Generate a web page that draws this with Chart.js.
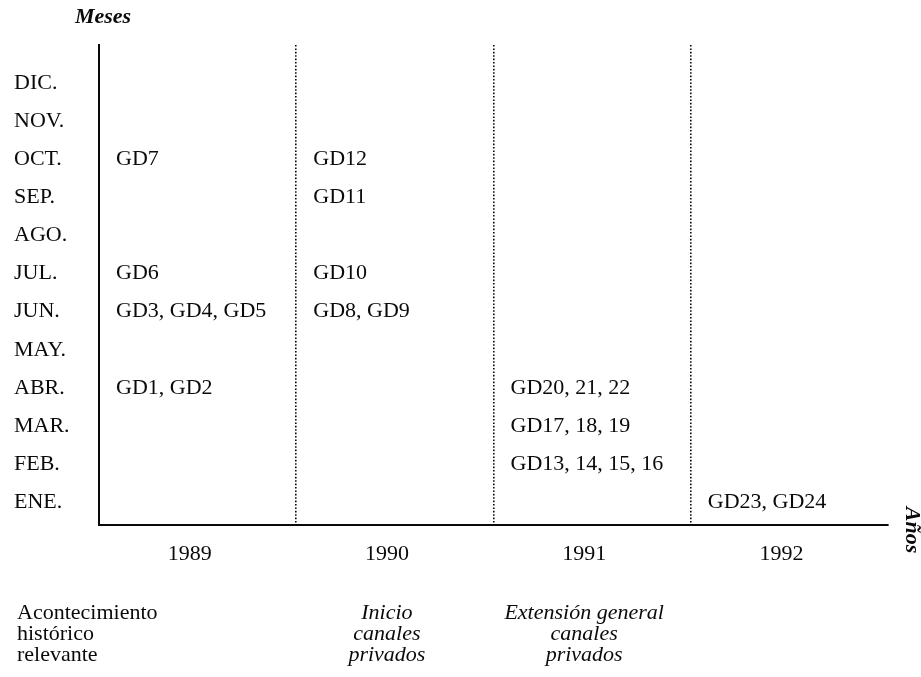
<!DOCTYPE html>
<html>
<head>
<meta charset="utf-8">
<script src="https://cdn.jsdelivr.net/npm/chart.js@4.4.0/dist/chart.umd.min.js"></script>
<style>
html, body { margin: 0; padding: 0; background: #fff; }
#wrap { width: 921px; height: 677px; }
</style>
</head>
<body>
<div id="wrap"><canvas id="gdChart"></canvas></div>
<script>
// axis categories
const years = ['1989', '1990', '1991', '1992'];
const months = ['ENE.', 'FEB.', 'MAR.', 'ABR.', 'MAY.', 'JUN.', 'JUL.', 'AGO.', 'SEP.', 'OCT.', 'NOV.', 'DIC.'];

// group discussions (GD) placed by year and month
const eventYears = ['1989', '1989', '1989', '1989', '1990', '1990', '1990', '1990', '1991', '1991', '1991', '1992'];
const eventMonths = ['ABR.', 'JUN.', 'JUL.', 'OCT.', 'JUN.', 'JUL.', 'SEP.', 'OCT.', 'FEB.', 'MAR.', 'ABR.', 'ENE.'];
const eventLabels = ['GD1, GD2', 'GD3, GD4, GD5', 'GD6', 'GD7', 'GD8, GD9', 'GD10', 'GD11', 'GD12',
                     'GD13, 14, 15, 16', 'GD17, 18, 19', 'GD20, 21, 22', 'GD23, GD24'];

// historical event row under the years
const rowHeader = ['Acontecimiento', 'histórico', 'relevante'];
const milestones = [[], ['Inicio', 'canales', 'privados'], ['Extensión general', 'canales', 'privados'], []];

var serif = "'Liberation Serif', 'Times New Roman', serif";
var ink = '#0a0a0a';
var labelShift = -8;

var points = [];
for (let i in eventLabels) {
    points.push({ x: eventYears[i], y: months.indexOf(eventMonths[i]) });
}

const textPlugin = {
    id: 'textPlugin',
    afterDraw: function (chart) {
        const ctx = chart.ctx;
        const xs = chart.scales.x;
        const ys = chart.scales.y;
        const area = chart.chartArea;
        const band = xs.width / years.length;
        ctx.save();
        ctx.fillStyle = ink;
        ctx.textBaseline = 'middle';

        // GD labels, left aligned inside each year band
        ctx.font = '22px ' + serif;
        ctx.textAlign = 'left';
        chart.getDatasetMeta(0).data.forEach(function (pt, i) {
            ctx.fillText(eventLabels[i], pt.x - band / 2 + 17, pt.y);
        });

        // axis titles
        ctx.font = 'italic bold 22px ' + serif;
        ctx.textAlign = 'center';
        ctx.fillText('Meses', ys.right + 4, 17);
        ctx.save();
        ctx.translate(area.right + 24, area.bottom + 5);
        ctx.rotate(Math.PI / 2);
        ctx.fillText('Años', 0, 0);
        ctx.restore();

        // bottom row
        const lineH = 21;
        const rowY = area.bottom + 88;
        ctx.font = '22px ' + serif;
        ctx.textAlign = 'left';
        rowHeader.forEach(function (t, k) {
            ctx.fillText(t, ys.left + 3, rowY + k * lineH);
        });
        ctx.font = 'italic 22px ' + serif;
        ctx.textAlign = 'center';
        milestones.forEach(function (lines, i) {
            const cx = xs.getPixelForValue(i) + labelShift;
            lines.forEach(function (t, k) {
                ctx.fillText(t, cx, rowY + k * lineH);
            });
        });
        ctx.restore();
    }
};

const config_gd = {
    type: 'scatter',
    data: {
        labels: years,
        datasets: [{
            data: points,
            pointRadius: 0,
            pointHoverRadius: 0,
            showLine: false
        }]
    },
    options: {
        responsive: true,
        maintainAspectRatio: false,
        animation: false,
        layout: { padding: { left: 14, top: 45, right: 33, bottom: 0 } },
        plugins: {
            legend: { display: false },
            tooltip: { enabled: false }
        },
        scales: {
            x: {
                type: 'category',
                labels: years,
                offset: true,
                grid: {
                    offset: true,
                    drawTicks: false,
                    lineWidth: 1.6,
                    color: function (c) {
                        return (c.type === 'tick' && c.index > 0) ? ink : 'rgba(0,0,0,0)';
                    }
                },
                border: { display: true, color: ink, width: 2, dash: [1.6, 1.8] },
                ticks: {
                    color: ink,
                    padding: 16,
                    labelOffset: labelShift,
                    font: { family: serif, size: 22 }
                },
                afterFit: function (scale) { scale.height = 152; }
            },
            y: {
                type: 'linear',
                min: -0.6,
                max: 12,
                grid: { display: false },
                border: { display: true, color: ink, width: 2 },
                ticks: {
                    color: ink,
                    padding: 0,
                    crossAlign: 'far',
                    font: { family: serif, size: 22 },
                    callback: function (v) { return months[v]; }
                },
                afterBuildTicks: function (scale) {
                    scale.ticks = months.map(function (m, i) { return { value: i }; });
                },
                afterFit: function (scale) { scale.width = 85; }
            }
        }
    },
    plugins: [textPlugin]
};

const gdChart = new Chart(document.getElementById('gdChart'), config_gd);
</script>
</body>
</html>
